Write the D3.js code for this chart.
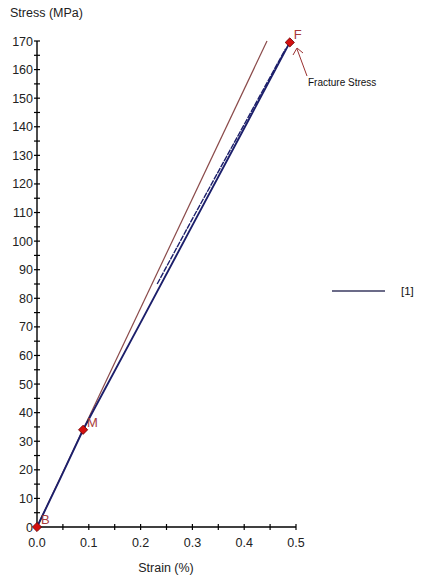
<!DOCTYPE html>
<html><head><meta charset="utf-8">
<script src="https://cdn.jsdelivr.net/npm/d3@7"></script>
<style>body{margin:0;background:#fff}svg{display:block}text{font-family:"Liberation Sans",Arial,sans-serif}</style>
</head><body><svg id="c" width="422" height="578"></svg>
<script>
const strainMain = [0, 0.045, 0.089, 0.2, 0.3, 0.4, 0.488];
const stressMain = [0, 17, 34, 71.5, 105.5, 139.5, 169.5];
const strainUnload = [0.232, 0.3, 0.4, 0.48];
const stressUnload = [85, 107.8, 140.8, 167.3];
const strainModulus = [0, 0.444];
const stressModulus = [0, 170];
const pointNames = ["B", "M", "F"];
const pointStrain = [0, 0.089, 0.488];
const pointStress = [0, 34, 169.5];
const xTicks = [0, 0.1, 0.2, 0.3, 0.4, 0.5];
const yTicks = d3.range(0, 171, 10);
const legendLabels = ["[1]"];

const svg = d3.select("#c");
const x = d3.scaleLinear().domain([0, 0.5]).range([37, 296]);
const y = d3.scaleLinear().domain([0, 170]).range([527, 41]);
const blue = "#1c1f6b", brown = "#8a4a4a", red = "#a83a3a";

// axes
const gx = svg.append("g").attr("transform", `translate(0,${y(0)})`);
gx.append("line").attr("x1", x(0)).attr("x2", x(0.5)).attr("stroke", "#000").attr("stroke-width", 1.4);
d3.range(0, 0.501, 0.05).forEach(v => {
  gx.append("line").attr("x1", x(v)).attr("x2", x(v)).attr("y1", -3).attr("y2", 3).attr("stroke", "#000").attr("stroke-width", 1.2);
});
gx.selectAll("text.t").data(xTicks).join("text").attr("x", d => x(d)).attr("y", 20)
  .attr("text-anchor", "middle").attr("font-size", 12.5).attr("fill", "#222").text(d => d.toFixed(1));

const gy = svg.append("g").attr("transform", `translate(${x(0)},0)`);
gy.append("line").attr("y1", y(0)).attr("y2", y(170)).attr("stroke", "#000").attr("stroke-width", 1.4);
d3.range(0, 170.1, 5).forEach(v => {
  gy.append("line").attr("y1", y(v)).attr("y2", y(v)).attr("x1", -3).attr("x2", 3).attr("stroke", "#000").attr("stroke-width", 1.2);
});
gy.selectAll("text.t").data(yTicks).join("text").attr("x", -4).attr("y", d => y(d) + 4.5)
  .attr("text-anchor", "end").attr("font-size", 12.5).attr("fill", "#222").text(d => d);

svg.append("text").attr("x", 10).attr("y", 17).attr("font-size", 12.5).attr("fill", "#222").text("Stress (MPa)");
svg.append("text").attr("x", 166).attr("y", 572).attr("text-anchor", "middle").attr("font-size", 12.5).attr("fill", "#222").text("Strain (%)");

const line = d3.line().x(d => x(d[0])).y(d => y(d[1]));
svg.append("path").attr("d", line(strainModulus.map((s, i) => [s, stressModulus[i]])))
  .attr("fill", "none").attr("stroke", brown).attr("stroke-width", 1.2);
svg.append("path").attr("d", line(strainUnload.map((s, i) => [s, stressUnload[i]])))
  .attr("fill", "none").attr("stroke", blue).attr("stroke-width", 1.4).attr("stroke-dasharray", "6,1");
svg.append("path").attr("d", line(strainMain.map((s, i) => [s, stressMain[i]])))
  .attr("fill", "none").attr("stroke", blue).attr("stroke-width", 1.9);

// markers
pointNames.forEach((n, i) => {
  const px = x(pointStrain[i]), py = y(pointStress[i]);
  svg.append("path").attr("d", d3.symbol(d3.symbolSquare, 42)()).attr("transform", `translate(${px},${py}) rotate(45)`)
    .attr("fill", "#d40f0f").attr("stroke", "#6a0000").attr("stroke-width", 0.8);
  svg.append("text").attr("x", px + 4).attr("y", py - 3).attr("font-size", 13).attr("fill", red).text(n);
});

// annotation
svg.append("text").attr("x", 308).attr("y", 86).attr("font-size", 10).attr("fill", "#111").text("Fracture Stress");
svg.append("line").attr("x1", 307).attr("y1", 76).attr("x2", 297).attr("y2", 49).attr("stroke", "#9a3030").attr("stroke-width", 1);
svg.append("path").attr("d", "M293,55 L297,48 L303,53").attr("fill", "none").attr("stroke", "#9a3030").attr("stroke-width", 1);

// legend
svg.append("line").attr("x1", 332).attr("x2", 385).attr("y1", 291).attr("y2", 291).attr("stroke", "#3a3a60").attr("stroke-width", 1.6);
svg.append("text").attr("x", 401).attr("y", 295).attr("font-size", 11.5).attr("fill", "#111").text(legendLabels[0]);
</script></body></html>
